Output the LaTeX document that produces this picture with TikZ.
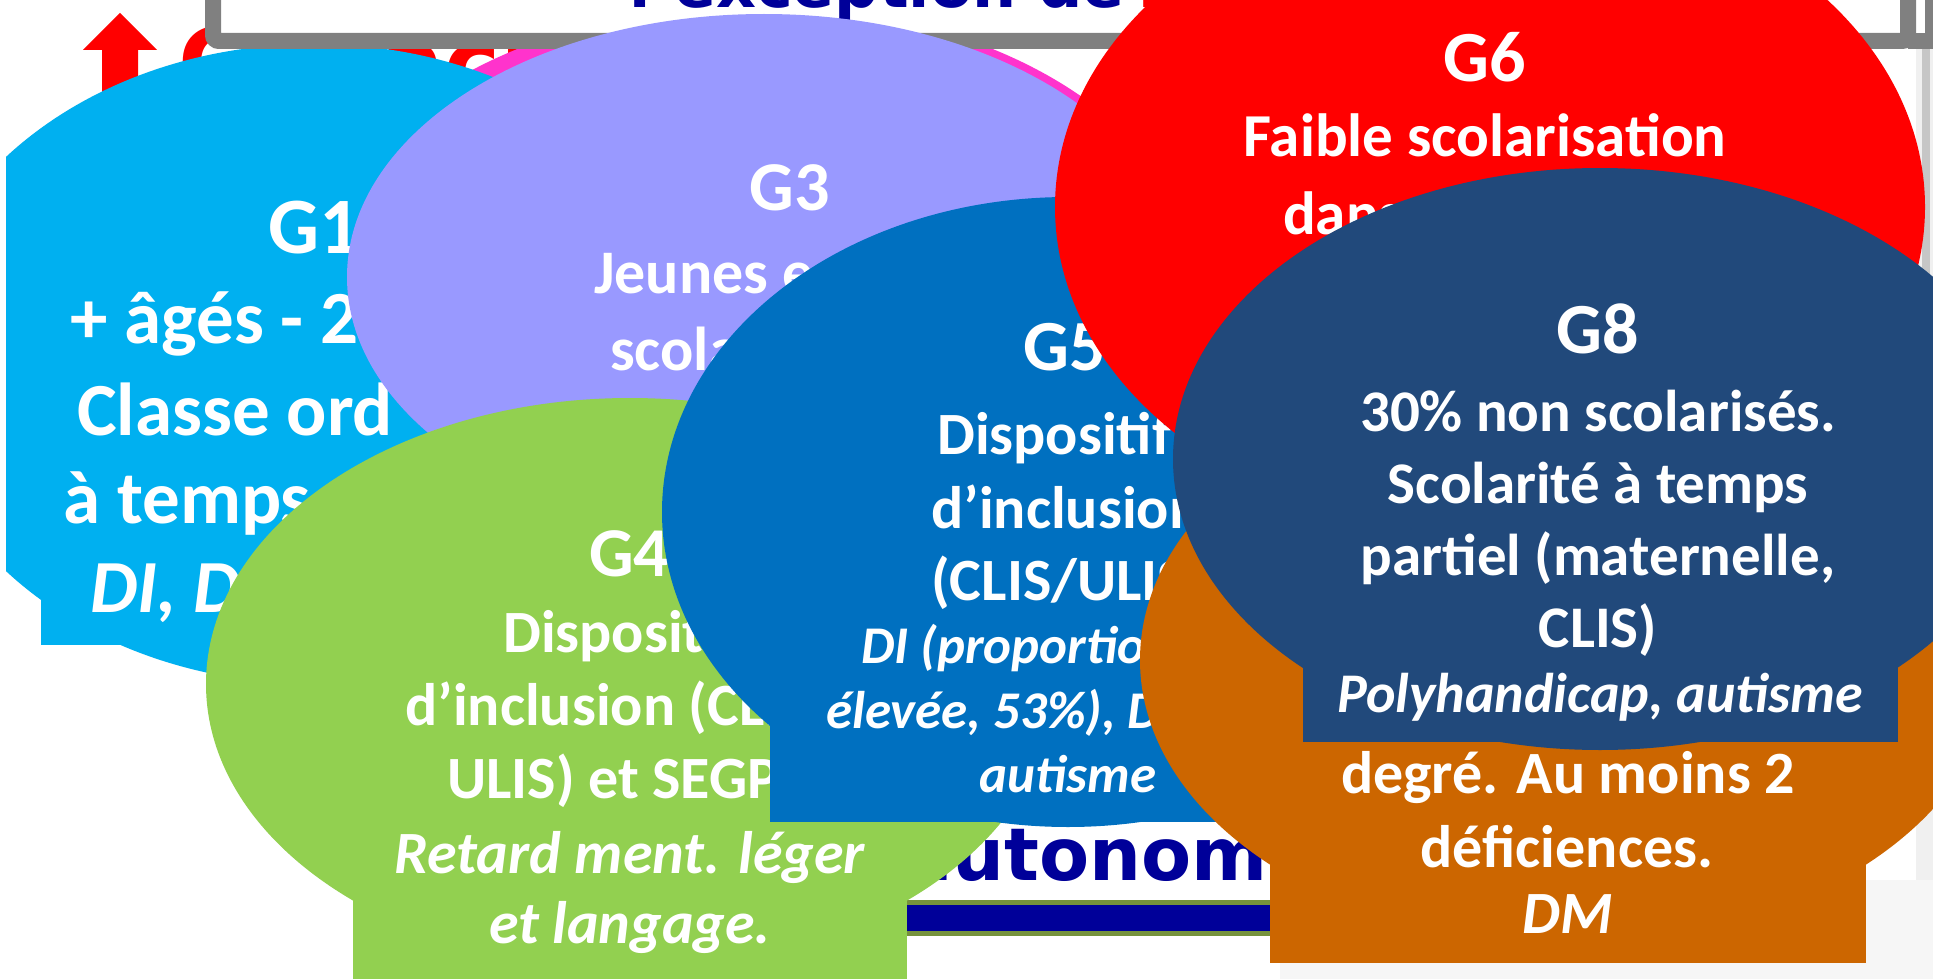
\documentclass[tikz,border=0pt]{standalone}
\usepackage{fontspec}
\setmainfont{Carlito}
\newfontfamily\heavyfont{DejaVu Sans}
\definecolor{cGa}{HTML}{00B0F0}
\definecolor{cGb}{HTML}{FF33CC}
\definecolor{cGc}{HTML}{9999FF}
\definecolor{cGd}{HTML}{92D050}
\definecolor{cGe}{HTML}{0070C0}
\definecolor{cGf}{HTML}{FF0000}
\definecolor{cGg}{HTML}{CC6600}
\definecolor{cGh}{HTML}{21497B}
\definecolor{navyT}{HTML}{000099}
\definecolor{oliveL}{HTML}{76923C}
\definecolor{frameG}{HTML}{808080}
\newcommand{\fsz}[1]{\fontsize{#1}{#1}\selectfont}
\tikzset{
  txt/.style={text=white, inner sep=0pt, font=\bfseries\fsz{#1}},
  itx/.style={text=white, inner sep=0pt, font=\bfseries\itshape\fsz{#1}},
  heavy/.style={inner sep=0pt, font=\heavyfont\bfseries\fsz{#1}},
}
\begin{document}
\begin{tikzpicture}[x=1pt,y=-1pt]
\useasboundingbox (0,0) rectangle (1933,979);
\clip (0,0) rectangle (1933,979);
\fill[white] (0,0) rectangle (1933,979);
% right background strip and texture
\fill[gray!12] (1916,49) rectangle (1933,979);
\fill[gray!45] (1922,49) rectangle (1930,420);
\fill[gray!7] (1280,880) rectangle (1933,979);
% red axis label and arrow
\node[heavy=95, text=red, anchor=base west] (axis) at (178,97) {Capacités};
\fill[red] (83,50) -- (120,13) -- (157,50) -- (138,50) -- (138,130) -- (102,130) -- (102,50) -- cycle;
% autonomie
\fill[oliveL] (880,900) rectangle (1290,936);
\fill[navyT] (880,905) rectangle (1290,931);
\node[heavy=73, text=navyT, anchor=base west] (auto) at (903,880) {autonomie};
% G2 pink
\fill[cGb] (755,283) ellipse [x radius=440pt, y radius=278pt];
% G1
\fill[cGa] (314,364) ellipse [x radius=404pt, y radius=320pt];
\fill[cGa] (41,250) rectangle (587,645);
\node[txt=80, anchor=base] (g1t) at (314,253) {G1};
\node[txt=75, anchor=base west] (g1a) at (70,343) {+ âgés - 2};
\node[txt=75, anchor=base west] (g1b) at (77,435) {Classe ord};
\node[txt=75, anchor=base west] (g1c) at (63,523) {à temps};
\node[itx=75, anchor=base west] (g1d) at (90,612) {DI, D};
% title frame
\fill[frameG] (1908,33) rectangle (1933,49);
\fill[frameG] (1925,0) rectangle (1933,33);
\draw[line width=16pt, draw=frameG, fill=white, rounded corners=6pt] (213,-60) rectangle (1908,41);
\node[heavy=62, text=navyT, anchor=base west] (title) at (629,8) {l’exception de};
\node[heavy=62, text=red, anchor=base west] (titler) at (1138,8) {l};
% G3
\fill[cGc] (764,277) ellipse [x radius=417pt, y radius=263pt];
\node[txt=70, anchor=base] (g3t) at (790,210) {G3};
\node[txt=62, anchor=base west] (g3a) at (594,293) {Jeunes e};
\node[txt=62, anchor=base west] (g3b) at (610,370) {scola};
% G4
\fill[cGd] (630,684) ellipse [x radius=424pt, y radius=286pt];
\fill[cGd] (353,600) rectangle (907,990);
\node[txt=70, anchor=base west] (g4t) at (589,576) {G4};
\node[txt=60, anchor=base west] (g4a) at (503,652) {Dispositif};
\node[txt=60, anchor=base west] (g4b) at (405,725) {d’inclusion (CLIS/};
\node[txt=60, anchor=base west] (g4c) at (447,798) {ULIS) et SEGPA};
\node[itx=60, anchor=base] (g4d) at (630,873) {Retard ment. léger};
\node[itx=60, anchor=base] (g4e) at (630,943) {et langage.};
% G5
\fill[cGe] (1068,512) ellipse [x radius=406pt, y radius=315pt];
\fill[cGe] (770,400) rectangle (1365,822);
\node[txt=72, anchor=base west] (g5t) at (1023,370) {G5};
\node[txt=60, anchor=base west] (g5a) at (937,454) {Dispositif};
\node[txt=60, anchor=base west] (g5b) at (931,528) {d’inclusion};
\node[txt=60, anchor=base west] (g5c) at (931,600) {(CLIS/ULIS)};
\node[itx=53, anchor=base west] (g5d) at (861,663) {DI (proportion};
\node[itx=53, anchor=base west] (g5e) at (826,728) {élevée, 53\%), DM};
\node[itx=53, anchor=base] (g5f) at (1068,792) {autisme};
% G6
\fill[cGf] (1490,207) ellipse [x radius=435pt, y radius=328pt];
\node[txt=72, anchor=base] (g6t) at (1485,82) {G6};
\node[txt=61, anchor=base] (g6a) at (1485,157) {Faible scolarisation};
\node[txt=61, anchor=base west] (g6b) at (1283,234) {dans};
% G7
\fill[cGg] (1568,660) ellipse [x radius=428pt, y radius=285pt];
\fill[cGg] (1270,560) rectangle (1866,963);
\node[txt=60, anchor=base] (g7a) at (1568,793) {degré. Au moins 2};
\node[txt=60, anchor=base] (g7b) at (1567,867) {déficiences.};
\node[itx=60, anchor=base] (g7c) at (1568,933) {DM};
% G8
\fill[cGh] (1600,459) ellipse [x radius=427pt, y radius=291pt];
\fill[cGh] (1303,400) rectangle (1898,742);
\node[txt=72, anchor=base] (g8t) at (1598,353) {G8};
\node[txt=59, anchor=base] (g8a) at (1598,431) {30\% non scolarisés.};
\node[txt=59, anchor=base] (g8b) at (1598,503) {Scolarité à temps};
\node[txt=59, anchor=base] (g8c) at (1598,575) {partiel (maternelle,};
\node[txt=59, anchor=base] (g8d) at (1598,647) {CLIS)};
\node[itx=56, anchor=base] (g8e) at (1600,712) {Polyhandicap, autisme};
% left margin
\fill[white] (0,0) rectangle (6,979);
\end{tikzpicture}
\end{document}
